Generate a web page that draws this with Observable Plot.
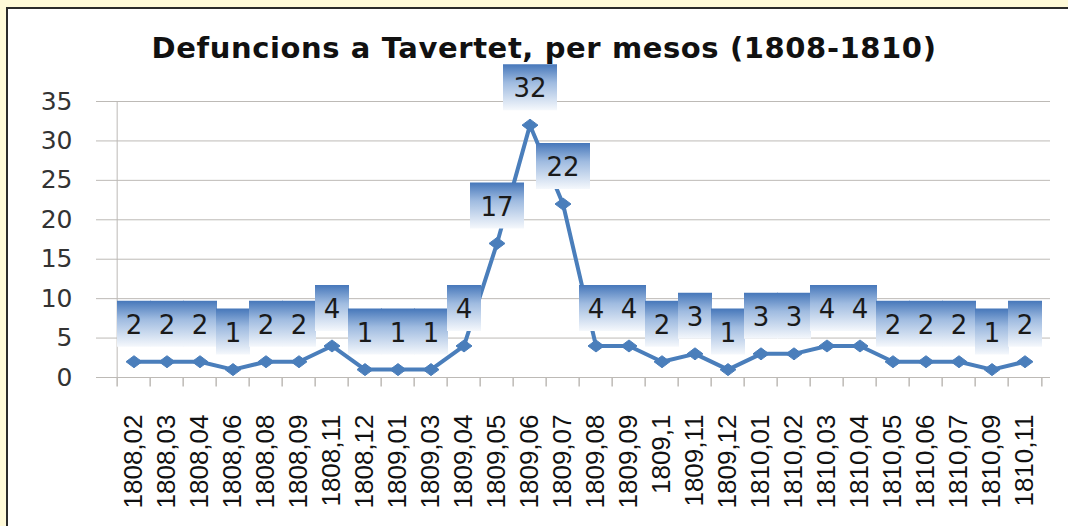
<!DOCTYPE html>
<html>
<head>
<meta charset="utf-8">
<script src="https://cdn.jsdelivr.net/npm/d3@7"></script>
<script src="https://cdn.jsdelivr.net/npm/@observablehq/plot@0.6"></script>
<style>
  html, body { margin: 0; padding: 0; }
  #page { position: relative; width: 1068px; height: 526px; background: #fffad8; overflow: hidden; }
  #panel { position: absolute; left: 6px; top: 7px; right: -10px; bottom: -10px; background: #ffffff;
           border-left: 2px solid #2b2b2b; border-top: 2px solid #2b2b2b; }
  #title { position: absolute; left: 14px; width: 1060px; top: 34px; text-align: center;
           font-family: "DejaVu Sans", sans-serif; font-weight: bold; font-size: 29px; line-height: 29px;
           letter-spacing: 0.6px; color: #111; white-space: nowrap; }
  #chart { position: absolute; left: 0; top: 60px; }
</style>
</head>
<body>
<div id="page">
  <div id="panel"></div>
  <div id="title">Defuncions a Tavertet, per mesos (1808-1810)</div>
  <div id="chart"></div>
</div>
<script>
// ---- data ----
const categories = ["1808,02","1808,03","1808,04","1808,06","1808,08","1808,09","1808,11","1808,12",
  "1809,01","1809,03","1809,04","1809,05","1809,06","1809,07","1809,08","1809,09","1809,1","1809,11",
  "1809,12","1810,01","1810,02","1810,03","1810,04","1810,05","1810,06","1810,07","1810,09","1810,11"];
const deaths = [2,2,2,1,2,2,4,1,1,1,4,17,32,22,4,4,2,3,1,3,3,4,4,2,2,2,1,2];
const yTicks = [0,5,10,15,20,25,30,35];

const data = categories.map((c, i) => ({month: c, deaths: deaths[i], label: String(deaths[i])}));

// ---- layout ----
const W = 1068, H = 466, ML = 107, MR = 18, MT = 41, MB = 149;
const bw = (W - ML - MR) / categories.length;
const lineColor = "#4a7ebb";
const gridColor = "#bdbab6";
const BOXFILL = "#4a7dc1";

const boxSymbol = w => ({draw(ctx) { ctx.rect(-w / 2, -61, w, 46); }});
const wideDiamond = {draw(ctx) { ctx.moveTo(-8, 0); ctx.lineTo(0, -6); ctx.lineTo(8, 0); ctx.lineTo(0, 6); ctx.closePath(); }};
const tickSymbol = {draw(ctx) { ctx.moveTo(0, 0); ctx.lineTo(0, 9); }};

const chart = Plot.plot({
  width: W, height: H,
  marginLeft: ML, marginRight: MR, marginTop: MT, marginBottom: MB,
  style: {background: "transparent", overflow: "visible"},
  x: {type: "band", domain: categories, padding: 0, label: null},
  y: {domain: [0, 35], label: null},
  marks: [
    Plot.ruleY(yTicks, {stroke: gridColor, strokeWidth: 1}),
    Plot.ruleX([categories[0]], {x: d => d, y1: 0, y2: 35, dx: -bw / 2, stroke: gridColor}),
    Plot.dot(data, {x: "month", y: () => 0, dx: -bw / 2, symbol: tickSymbol, stroke: gridColor, strokeWidth: 1.5, fill: "none"}),
    Plot.dot(data.slice(-1), {x: "month", y: () => 0, dx: bw / 2, symbol: tickSymbol, stroke: gridColor, strokeWidth: 1.5, fill: "none"}),
    Plot.axisY({ticks: yTicks, label: null, tickSize: 11, tickPadding: 24, stroke: gridColor, fill: "#333",
                fontSize: 25, fontFamily: "DejaVu Sans"}),
    Plot.axisX({label: null, tickSize: 0, tickRotate: -90, tickPadding: 37, fill: "#111",
                fontSize: 26, fontFamily: "Liberation Sans"}),
    Plot.line(data, {x: "month", y: "deaths", stroke: lineColor, strokeWidth: 4, strokeLinejoin: "round"}),
    Plot.dot(data, {x: "month", y: "deaths", symbol: wideDiamond, fill: lineColor, stroke: lineColor, strokeWidth: 1}),
    Plot.dot(data.filter(d => d.deaths < 10), {x: "month", y: "deaths", symbol: boxSymbol(34), fill: BOXFILL, stroke: "none"}),
    Plot.dot(data.filter(d => d.deaths >= 10), {x: "month", y: "deaths", symbol: boxSymbol(54), fill: BOXFILL, stroke: "none"}),
    Plot.text(data, {x: "month", y: "deaths", text: "label", dy: -36, fontSize: 26,
                     fontFamily: "DejaVu Sans", fill: "#1a1a1a"})
  ]
});

const svg = d3.select(chart);
const defs = svg.insert("defs", ":first-child");
const grad = defs.append("linearGradient").attr("id", "lblGrad")
  .attr("x1", 0).attr("y1", 0).attr("x2", 0).attr("y2", 1);
grad.append("stop").attr("offset", "0").attr("stop-color", "#4677ba");
grad.append("stop").attr("offset", "0.4").attr("stop-color", "#9fbbe0");
grad.append("stop").attr("offset", "1").attr("stop-color", "#f5f8fc");
svg.selectAll("g").filter(function() { return this.getAttribute("fill") === BOXFILL; })
  .attr("fill", "url(#lblGrad)");
svg.selectAll("path").filter(function() { return this.getAttribute("fill") === BOXFILL; })
  .attr("fill", "url(#lblGrad)");

document.getElementById("chart").appendChild(chart);
</script>
</body>
</html>
